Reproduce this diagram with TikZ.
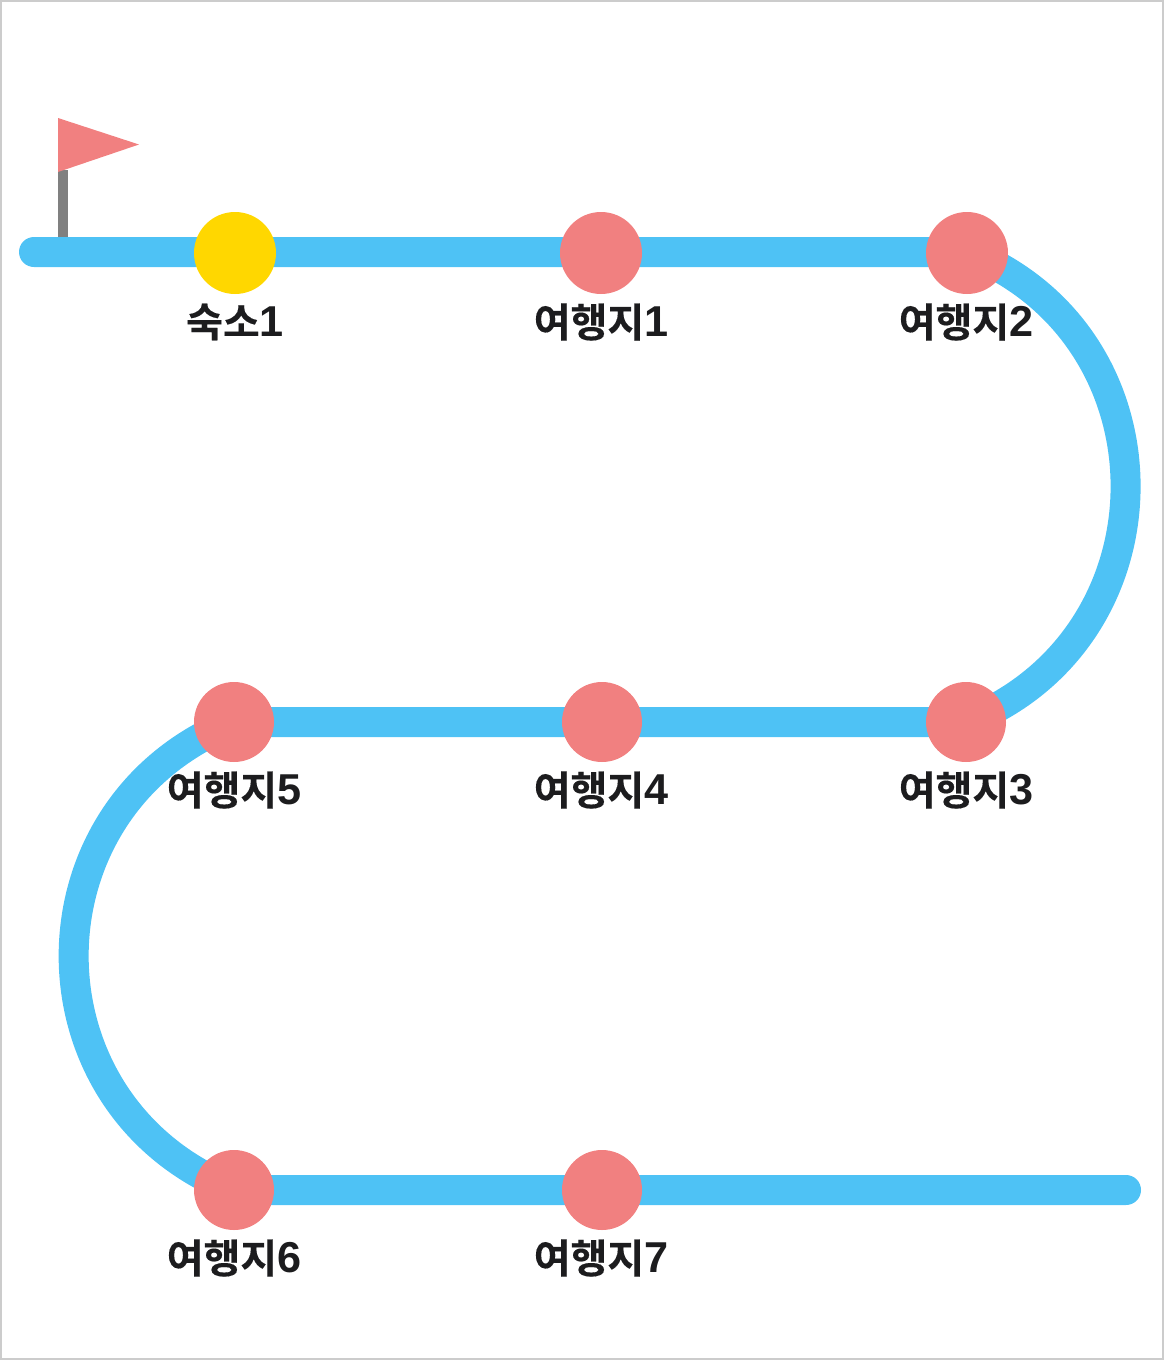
\documentclass[tikz,border=0pt]{standalone}
\usepackage{fontspec}
\usepackage{tikz}
\newfontfamily\krfont[FakeBold=0.25]{Noto Sans CJK KR Bold}
\newfontfamily\numfont[Scale=1.08]{Liberation Sans Bold}
\newcommand{\placename}[1]{여행지{\numfont #1}}
\definecolor{trackblue}{HTML}{4EC2F5}
\definecolor{stopred}{HTML}{F18080}
\definecolor{stopgold}{HTML}{FFD700}
\definecolor{labelblack}{HTML}{1C1C1E}
\definecolor{framegray}{HTML}{CCCCCC}
\definecolor{polegray}{HTML}{808080}
\tikzset{
	track/.style={draw=trackblue, line width=30pt, line cap=round},
	stop/.style={circle, fill=stopred, minimum size=80pt, inner sep=0pt},
	stopname/.style={text=labelblack, font=\krfont\fontsize{40}{40}\selectfont, inner sep=0pt, anchor=center}
}
\begin{document}
\begin{tikzpicture}[x=1pt, y=-1pt]
		\useasboundingbox (0,0) rectangle (1164,1360);
		\draw[framegray, line width=2pt] (1,1) rectangle (1163,1359);
		\coordinate (Start) at (34,252);
		\coordinate (End) at (1126,1190);
		\coordinate (PoleTop) at (63,170);
		\coordinate (PoleFoot) at (63,240);
		\coordinate (FlagA) at (58,118);
		\coordinate (FlagB) at (139,144.5);
		\coordinate (FlagC) at (58,172);
		\draw[polegray, line width=10pt] (PoleTop) -- (PoleFoot);
		\fill[stopred] (FlagA) -- (FlagB) -- (FlagC) -- cycle;
		\coordinate (T2) at (967,252);
		\coordinate (T3) at (966,722);
		\coordinate (T5) at (234,722);
		\coordinate (T6) at (234,1190);
		\draw[track] (Start) -- (T2) to[out=-21.6, in=21.6, looseness=1.24] (T3)
		-- (T5) to[out=201.6, in=158.4, looseness=1.26] (T6) -- (End);
		\node[stop, fill=stopgold, minimum size=82pt] (H1) at (235,253) {};
		\node[stop, minimum size=82pt] (S1) at (601,253) {};
		\node[stop, minimum size=82pt] (S2) at (967,253) {};
		\node[stop] (S3) at (966,722) {};
		\node[stop] (S4) at (602,722) {};
		\node[stop] (S5) at (234,722) {};
		\node[stop] (S6) at (234,1190) {};
		\node[stop] (S7) at (602,1190) {};
		\node[stopname] (L0) at (235,322) {숙소{\numfont 1}};
		\node[stopname] (L1) at (601,322) {\placename{1}};
		\node[stopname] (L2) at (966,322) {\placename{2}};
		\node[stopname] (L3) at (966,790) {\placename{3}};
		\node[stopname] (L4) at (601,790) {\placename{4}};
		\node[stopname] (L5) at (234,790) {\placename{5}};
		\node[stopname] (L6) at (234,1258) {\placename{6}};
		\node[stopname] (L7) at (601,1258) {\placename{7}};
		\end{tikzpicture}
\end{document}
